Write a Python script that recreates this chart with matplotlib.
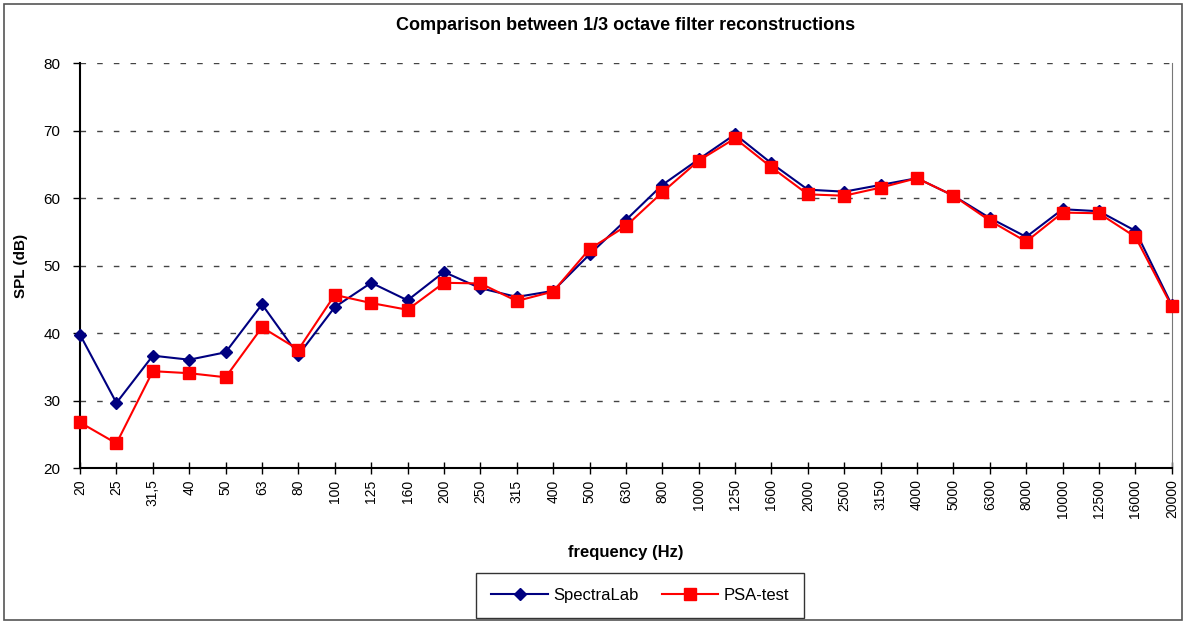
import matplotlib
matplotlib.use("Agg")
import matplotlib.pyplot as plt
from matplotlib.patches import Rectangle

plt.rcParams.update({"font.family": ["Liberation Sans", "DejaVu Sans"], "font.size": 10.5})

# 1/3 octave band centre frequencies (tick labels as in the original)
freqs = ["20", "25", "31,5", "40", "50", "63", "80", "100", "125", "160", "200", "250",
         "315", "400", "500", "630", "800", "1000", "1250", "1600", "2000", "2500", "3150",
         "4000", "5000", "6300", "8000", "10000", "12500", "16000", "20000"]
spectralab = [39.8, 29.7, 36.7, 36.1, 37.2, 44.3, 36.8, 43.9, 47.5, 44.9, 49.1, 46.7,
              45.4, 46.3, 51.7, 56.8, 62.0, 65.8, 69.5, 65.2, 61.3, 61.0, 62.0,
              63.0, 60.4, 57.1, 54.3, 58.4, 58.1, 55.2, 44.2]
psa_test = [26.8, 23.7, 34.4, 34.1, 33.5, 40.9, 37.6, 45.7, 44.5, 43.5, 47.5, 47.4,
            44.8, 46.2, 52.5, 55.9, 60.9, 65.6, 68.9, 64.6, 60.6, 60.4, 61.6,
            63.0, 60.4, 56.7, 53.6, 57.9, 57.8, 54.3, 44.0]

fig = plt.figure(figsize=(11.86, 6.22), dpi=100)
ax = fig.add_axes([0.0675, 0.247, 0.9205, 0.651])

x = range(len(freqs))
ax.plot(x, spectralab, color="#000080", lw=1.5, marker="D", ms=6.5, label="SpectraLab",
        zorder=3, clip_on=False)
ax.plot(x, psa_test, color="#FF0000", lw=1.5, marker="s", ms=9, label="PSA-test",
        zorder=4, clip_on=False)

ax.set_xlim(0, len(freqs) - 1)
ax.set_ylim(20, 80)
ax.set_yticks(range(20, 81, 10))
ax.set_xticks(list(x))
ax.set_xticklabels(freqs, rotation=90, fontsize=10)
ax.tick_params(axis="x", direction="inout", length=8, width=1, pad=4)
ax.tick_params(axis="y", direction="out", length=5, width=1, labelsize=11, pad=9)
for yv in range(30, 81, 10):
    ax.axhline(yv, color="#444444", lw=1, ls=(0, (4, 8)), zorder=1)

ax.spines["top"].set_visible(False)
ax.spines["right"].set_color("#777777")
ax.spines["left"].set_linewidth(1.5)
ax.spines["bottom"].set_linewidth(1.5)

ax.set_title("Comparison between 1/3 octave filter reconstructions",
             fontsize=13, fontweight="bold", pad=24)
ax.set_ylabel("SPL (dB)", fontsize=11, fontweight="bold", labelpad=11)
ax.set_xlabel("frequency (Hz)", fontsize=12, fontweight="bold", labelpad=19)

leg = ax.legend(loc="upper center", bbox_to_anchor=(0.513, -0.259), ncol=2, frameon=True,
                fancybox=False, edgecolor="black", fontsize=12, handlelength=3.4,
                columnspacing=1.4, handletextpad=0.3, borderpad=0.9, borderaxespad=0)
leg.get_frame().set_linewidth(1)

fig.patches.append(Rectangle((0.003, 0.004), 0.994, 0.99, transform=fig.transFigure,
                             fill=False, edgecolor="#555555", lw=1.2))

fig.savefig("out.png", dpi=100, facecolor="white")
